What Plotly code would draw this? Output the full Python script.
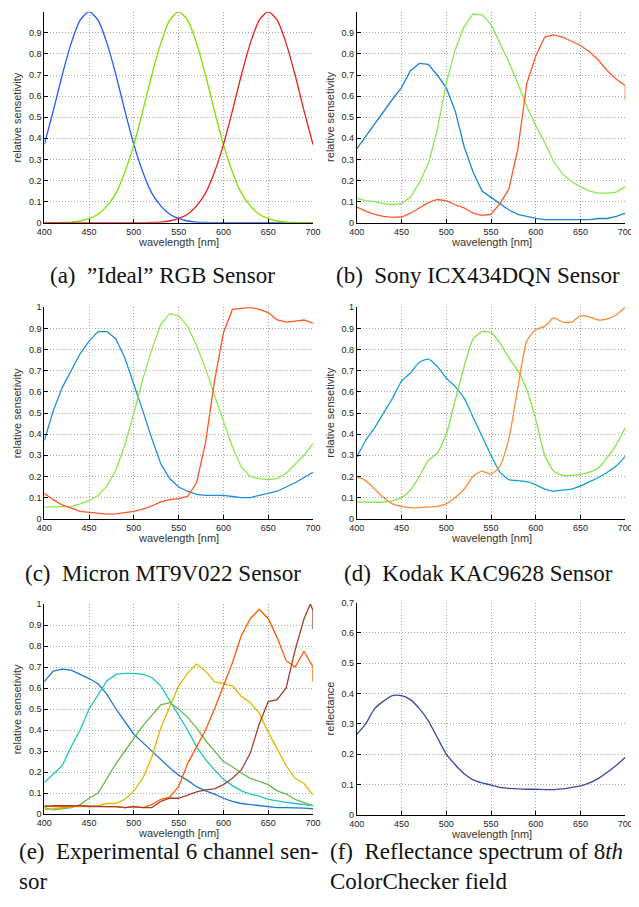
import plotly.graph_objects as go

WL = list(range(400, 701, 10))

# (a) Ideal RGB
a_blue = [0.37, 0.53, 0.70, 0.85, 0.96, 1.0, 0.96, 0.85, 0.70, 0.53, 0.37, 0.24, 0.14, 0.08, 0.04, 0.02,
          0.008, 0.003, 0.001, 0, 0, 0, 0, 0, 0, 0, 0, 0, 0, 0, 0]
a_green = [0, 0, 0.001, 0.003, 0.008, 0.02, 0.04, 0.08, 0.14, 0.24, 0.37, 0.53, 0.70, 0.85, 0.96, 1.0,
           0.96, 0.85, 0.70, 0.53, 0.37, 0.24, 0.14, 0.08, 0.04, 0.02, 0.008, 0.003, 0.001, 0, 0]
a_red = [0, 0, 0, 0, 0, 0, 0, 0, 0, 0, 0, 0, 0.001, 0.003, 0.008, 0.02, 0.04, 0.08, 0.14, 0.24, 0.37,
         0.53, 0.70, 0.85, 0.96, 1.0, 0.96, 0.85, 0.70, 0.53, 0.37]

# (b) Sony ICX434DQN
b_blue = [0.35, 0.41, 0.47, 0.53, 0.585, 0.64, 0.72, 0.755, 0.75, 0.70, 0.64, 0.53, 0.36, 0.24, 0.15, 0.12,
          0.09, 0.06, 0.04, 0.03, 0.02, 0.015, 0.015, 0.015, 0.015, 0.015, 0.015, 0.02, 0.02, 0.03, 0.045]
b_green = [0.115, 0.105, 0.10, 0.09, 0.085, 0.09, 0.12, 0.19, 0.28, 0.44, 0.66, 0.82, 0.93, 0.99, 0.985, 0.94,
           0.85, 0.76, 0.66, 0.55, 0.46, 0.38, 0.29, 0.23, 0.195, 0.17, 0.15, 0.14, 0.14, 0.145, 0.17]
b_red_x = WL + [700]
b_red = [0.075, 0.055, 0.04, 0.03, 0.025, 0.027, 0.045, 0.07, 0.095, 0.11, 0.105, 0.085, 0.07, 0.045, 0.035, 0.04,
         0.09, 0.16, 0.35, 0.66, 0.79, 0.88, 0.89, 0.88, 0.86, 0.84, 0.81, 0.77, 0.72, 0.68, 0.65, 0.58]

# (c) Micron MT9V022
c_blue = [0.37, 0.51, 0.62, 0.70, 0.78, 0.84, 0.885, 0.885, 0.85, 0.76, 0.64, 0.51, 0.38, 0.26, 0.19, 0.15,
          0.13, 0.115, 0.11, 0.11, 0.11, 0.105, 0.10, 0.10, 0.11, 0.12, 0.13, 0.15, 0.17, 0.195, 0.22]
c_green = [0.055, 0.057, 0.057, 0.058, 0.07, 0.085, 0.11, 0.155, 0.23, 0.35, 0.50, 0.66, 0.80, 0.92, 0.97, 0.96,
           0.91, 0.82, 0.71, 0.58, 0.46, 0.34, 0.245, 0.20, 0.19, 0.185, 0.19, 0.215, 0.26, 0.30, 0.355]
c_red = [0.12, 0.09, 0.065, 0.05, 0.035, 0.03, 0.025, 0.022, 0.023, 0.028, 0.035, 0.045, 0.06, 0.08, 0.09, 0.095,
         0.105, 0.17, 0.36, 0.65, 0.88, 0.99, 0.995, 1.0, 0.99, 0.975, 0.94, 0.93, 0.935, 0.94, 0.925]

# (d) Kodak KAC9628
d_blue = [0.29, 0.37, 0.43, 0.50, 0.57, 0.65, 0.69, 0.74, 0.755, 0.72, 0.665, 0.625, 0.57, 0.48, 0.39, 0.30,
          0.22, 0.185, 0.18, 0.175, 0.16, 0.14, 0.13, 0.135, 0.14, 0.155, 0.175, 0.195, 0.22, 0.25, 0.295]
d_green = [0.08, 0.078, 0.078, 0.078, 0.085, 0.10, 0.135, 0.20, 0.275, 0.31, 0.40, 0.56, 0.72, 0.85, 0.885, 0.88,
           0.83, 0.76, 0.70, 0.61, 0.47, 0.30, 0.225, 0.205, 0.205, 0.21, 0.22, 0.24, 0.29, 0.35, 0.43]
d_red = [0.20, 0.18, 0.14, 0.10, 0.07, 0.058, 0.052, 0.052, 0.055, 0.058, 0.07, 0.10, 0.14, 0.20, 0.225, 0.21,
         0.25, 0.38, 0.62, 0.84, 0.895, 0.91, 0.95, 0.93, 0.93, 0.96, 0.955, 0.94, 0.945, 0.965, 1.0]

# (e) Experimental 6 channel sensor
e_blue = [0.63, 0.68, 0.69, 0.685, 0.665, 0.645, 0.62, 0.57, 0.50, 0.44, 0.38, 0.34, 0.30, 0.26, 0.22, 0.185,
          0.16, 0.13, 0.11, 0.095, 0.075, 0.06, 0.05, 0.045, 0.04, 0.035, 0.03, 0.03, 0.03, 0.028, 0.025]
e_cyan = [0.15, 0.19, 0.23, 0.32, 0.40, 0.50, 0.57, 0.635, 0.665, 0.67, 0.67, 0.665, 0.65, 0.61, 0.54, 0.47,
          0.40, 0.32, 0.26, 0.21, 0.165, 0.135, 0.11, 0.095, 0.085, 0.07, 0.062, 0.055, 0.05, 0.045, 0.04]
e_green = [0.03, 0.02, 0.025, 0.03, 0.045, 0.075, 0.10, 0.17, 0.24, 0.30, 0.36, 0.42, 0.47, 0.52, 0.53, 0.50,
           0.46, 0.41, 0.35, 0.30, 0.25, 0.225, 0.195, 0.17, 0.155, 0.14, 0.11, 0.095, 0.07, 0.055, 0.04]
e_yellow = [0.02, 0.025, 0.03, 0.035, 0.035, 0.035, 0.04, 0.05, 0.05, 0.07, 0.11, 0.17, 0.27, 0.41, 0.51, 0.61,
            0.67, 0.715, 0.68, 0.63, 0.62, 0.61, 0.56, 0.53, 0.48, 0.39, 0.31, 0.23, 0.17, 0.145, 0.09]
e_orange_x = WL + [700]
e_orange = [0.04, 0.035, 0.035, 0.035, 0.04, 0.038, 0.035, 0.035, 0.035, 0.03, 0.035, 0.03, 0.045, 0.07, 0.08,
            0.13, 0.24, 0.32, 0.40, 0.50, 0.61, 0.72, 0.85, 0.93, 0.975, 0.93, 0.84, 0.73, 0.70, 0.775, 0.70, 0.63]
e_brown_x = WL[:-1] + [697, 700, 700]
e_brown = [0.035, 0.04, 0.04, 0.04, 0.04, 0.035, 0.035, 0.035, 0.035, 0.03, 0.035, 0.03, 0.03, 0.06, 0.075,
           0.075, 0.09, 0.105, 0.115, 0.12, 0.14, 0.17, 0.21, 0.29, 0.43, 0.535, 0.545, 0.60, 0.78, 0.93,
           1.0, 0.97, 0.88]

# (f) Reflectance spectrum
f_refl = [0.265, 0.30, 0.35, 0.375, 0.393, 0.393, 0.38, 0.35, 0.31, 0.255, 0.20, 0.165, 0.135, 0.115, 0.105,
          0.098, 0.09, 0.087, 0.085, 0.084, 0.084, 0.083, 0.083, 0.085, 0.09, 0.095, 0.105, 0.12, 0.14, 0.163, 0.19]

X_TICKS = [400, 450, 500, 550, 600, 650, 700]
X_TICKTEXT = ["400", "450", "500", "550", "600", "650", "700"]
Y_TICKS = [0, 0.1, 0.2, 0.3, 0.4, 0.5, 0.6, 0.7, 0.8, 0.9, 1]
Y_TICKTEXT = ["0", "0.1", "0.2", "0.3", "0.4", "0.5", "0.6", "0.7", "0.8", "0.9", "1"]
Y_TICKS_F = Y_TICKS[:8]
Y_TICKTEXT_F = Y_TICKTEXT[:8]

CAPTIONS = ['(a)\u2002\u201dIdeal\u201d RGB Sensor', '(b)\u2002Sony ICX434DQN Sensor',
            '(c)\u2002Micron MT9V022 Sensor', '(d)\u2002Kodak KAC9628 Sensor',
            '(e)\u2002Experimental 6 channel sen-', 'sor',
            '(f)\u2002Reflectance spectrum of 8<i>th</i>', 'ColorChecker field']
X_TITLE = "wavelength [nm]"
Y_TITLE = "relative sensetivity"
Y_TITLE_F = "reflectance"

# page geometry: the HTML body has an 8px margin, so the figure is drawn offset by (8, 8)
OFF = 8
W, H = 639 - OFF, 907 - 2 * OFF

def px(x0, x1):
    return [(x0 - OFF) / W, (x1 - OFF) / W]
def py(top, bottom):
    return [1 - (bottom - OFF) / H, 1 - (top - OFF) / H]

LEFT = px(44.3, 313)
RIGHT = px(356.7, 625.3)
doms = [
    (LEFT, py(11.7, 222.7)),
    (RIGHT, py(11.7, 222.7)),
    (LEFT, py(307.3, 518.7)),
    (RIGHT, py(307.3, 518.7)),
    (LEFT, py(604, 814)),
    (RIGHT, py(602.7, 814.7)),
]

fig = go.Figure()

series = [
    (1, WL, a_blue, "#1e5cff", "spline"), (1, WL, a_green, "#7fe000", "spline"), (1, WL, a_red, "#e8201a", "spline"),
    (2, WL, b_blue, "#1a84dc", "linear"), (2, WL, b_green, "#88e850", "linear"), (2, b_red_x, b_red, "#ff5a2e", "linear"),
    (3, WL, c_blue, "#1a8ee2", "linear"), (3, WL, c_green, "#8ee84c", "linear"), (3, WL, c_red, "#ff5422", "linear"),
    (4, WL, d_blue, "#0fa2d2", "spline"), (4, WL, d_green, "#84e444", "spline"), (4, WL, d_red, "#ff8a34", "spline"),
    (5, WL, e_blue, "#1f78d2", "linear"), (5, WL, e_cyan, "#1ec2c0", "linear"), (5, WL, e_green, "#6cb84a", "linear"),
    (5, WL, e_yellow, "#e2b800", "linear"), (5, e_orange_x, e_orange, "#ff5c00", "linear"),
    (5, e_brown_x, e_brown, "#a2402a", "linear"),
    (6, WL, f_refl, "#3a4a9e", "spline"),
]

for i, xs, ys, col, shape in series:
    line = dict(color=col, width=1.3, shape=shape)
    if shape == "spline":
        line["smoothing"] = 0.6
    fig.add_trace(go.Scatter(
        x=xs, y=ys, mode="lines", showlegend=False, hoverinfo="skip", line=line,
        xaxis="x" if i == 1 else f"x{i}", yaxis="y" if i == 1 else f"y{i}",
    ))

tickfont = dict(family="Liberation Sans", size=9, color="#222222")
titlefont = dict(family="Liberation Sans", size=11, color="#333333")
capfont = dict(family="Liberation Serif", size=23, color="#111111")

layout = dict(width=W, height=H, margin=dict(l=0, r=0, t=0, b=0, autoexpand=False),
              paper_bgcolor="white", plot_bgcolor="white", showlegend=False)

GRID = dict(showgrid=True, gridcolor="#a8a8a8", griddash="1px,2px", gridwidth=1)

annotations = []
for i, (xd, yd) in enumerate(doms, start=1):
    sx = "" if i == 1 else str(i)
    is_f = (i == 6)
    layout[f"xaxis{sx}"] = dict(
        domain=xd, anchor=f"y{sx}", range=[400, 700], tickmode="array",
        tickvals=X_TICKS, ticktext=X_TICKTEXT, showline=True, linecolor="black", linewidth=1,
        ticks="inside", ticklen=4, tickcolor="black", tickfont=tickfont, zeroline=False,
        fixedrange=True, automargin=False, **GRID,
    )
    layout[f"yaxis{sx}"] = dict(
        domain=yd, anchor=f"x{sx}", range=[0, 0.7 if is_f else 1], tickmode="array",
        tickvals=Y_TICKS_F if is_f else Y_TICKS, ticktext=Y_TICKTEXT_F if is_f else Y_TICKTEXT,
        showline=True, linecolor="black", linewidth=1, ticks="inside", ticklen=4, tickcolor="black",
        tickfont=tickfont, zeroline=False, fixedrange=True, automargin=False, **GRID,
    )
    annotations.append(dict(text=X_TITLE, xref=f"x{sx} domain", yref=f"y{sx} domain", x=0.5, y=0,
                            xanchor="center", yanchor="middle", yshift=-19, showarrow=False,
                            font=titlefont))
    annotations.append(dict(text=Y_TITLE_F if is_f else Y_TITLE, xref=f"x{sx} domain",
                            yref=f"y{sx} domain", x=0, y=0.5, xanchor="center", yanchor="middle",
                            xshift=-27, textangle=-90, showarrow=False, font=titlefont))

def cap(text, x, y, anchor="left"):
    annotations.append(dict(text=text, xref="paper", yref="paper", x=(x - OFF) / W,
                            y=1 - (y - OFF) / H, xanchor=anchor, yanchor="middle",
                            showarrow=False, font=capfont))

cap(CAPTIONS[0], 162, 276, "center")
cap(CAPTIONS[1], 478, 276, "center")
cap(CAPTIONS[2], 163, 573, "center")
cap(CAPTIONS[3], 478, 573, "center")
cap(CAPTIONS[4], 17, 851)
cap(CAPTIONS[5], 17, 881)
cap(CAPTIONS[6], 328, 851)
cap(CAPTIONS[7], 328, 881)

layout["annotations"] = annotations
fig.update_layout(**layout)
fig.write_html("out.html")
